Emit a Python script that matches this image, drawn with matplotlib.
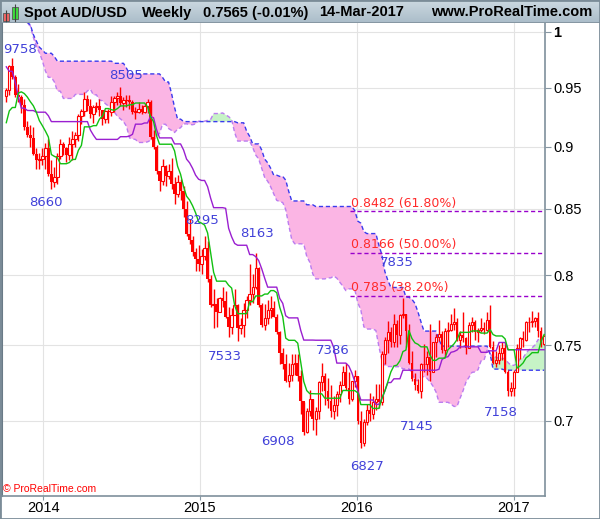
import numpy as np
import pandas as pd
import matplotlib
matplotlib.use('Agg')
import matplotlib.pyplot as plt
import matplotlib.dates as mdates
from matplotlib.patches import Rectangle
from matplotlib.ticker import NullLocator

plt.rcParams['font.family'] = ['Liberation Sans', 'DejaVu Sans']

# weekly highs/lows, 9 Apr 2012 - 30 Sep 2013 (only feed the Ichimoku windows)
hist_high = [1.040, 1.040, 1.045, 1.042, 1.017, 1.002, 0.990, 0.985, 0.990, 1.005,
             1.013, 1.025, 1.030, 1.028, 1.043, 1.045, 1.057, 1.062, 1.060, 1.055,
             1.045, 1.035, 1.052, 1.060, 1.050, 1.045, 1.030, 1.036, 1.045, 1.043,
             1.045, 1.042, 1.048, 1.050, 1.052, 1.060, 1.062, 1.046, 1.055,
             1.058, 1.061, 1.057, 1.048, 1.044, 1.037, 1.038, 1.033, 1.030, 1.037,
             1.048, 1.050, 1.058, 1.0582, 1.052, 1.040, 1.044, 1.024, 1.000, 0.980,
             0.980, 0.976, 0.961, 0.960, 0.932, 0.923, 0.917, 0.926, 0.935, 0.926,
             0.909, 0.921, 0.911, 0.906, 0.917, 0.930, 0.949, 0.942, 0.947]
hist_low = [1.027, 1.025, 1.028, 1.015, 1.000, 0.975, 0.968, 0.958, 0.967, 0.978,
            0.997, 0.998, 1.018, 1.010, 1.024, 1.027, 1.040, 1.050, 1.044, 1.040,
            1.025, 1.020, 1.032, 1.040, 1.035, 1.017, 1.018, 1.022, 1.030, 1.034,
            1.035, 1.028, 1.035, 1.040, 1.038, 1.047, 1.044, 1.035, 1.040,
            1.047, 1.046, 1.043, 1.039, 1.027, 1.022, 1.019, 1.015, 1.015, 1.025,
            1.030, 1.038, 1.037, 1.043, 1.022, 1.025, 1.027, 0.995, 0.975, 0.963,
            0.955, 0.951, 0.933, 0.921, 0.910, 0.905, 0.899, 0.906, 0.917, 0.893,
            0.8848, 0.906, 0.898, 0.890, 0.890, 0.915, 0.917, 0.926, 0.931]

# visible weekly bars, 7 Oct 2013 - 13 Mar 2017
first_open = 0.9425
high = [0.9500, 0.9700, 0.9758, 0.9615, 0.9530, 0.9440, 0.9400, 0.9210, 0.9180, 0.9160,
        0.8990, 0.8950, 0.8990,
        0.9030, 0.9060, 0.8890, 0.8830, 0.8950, 0.9060, 0.9040, 0.9000, 0.9080, 0.9130,
        0.9120, 0.9270, 0.9320, 0.9460, 0.9440, 0.9400, 0.9350, 0.9380, 0.9400, 0.9300,
        0.9310, 0.9320, 0.9430, 0.9430, 0.9460, 0.9505, 0.9420, 0.9440, 0.9440, 0.9390,
        0.9330, 0.9380, 0.9350, 0.9360, 0.9400, 0.9390, 0.9140, 0.9010, 0.8800, 0.8900,
        0.8850, 0.8860, 0.8910, 0.8750, 0.8770, 0.8740, 0.8680, 0.8560, 0.8420, 0.8290,
        0.8200, 0.8220,
        0.8190, 0.8290, 0.8250, 0.8000, 0.7900, 0.7830, 0.7840, 0.7910, 0.7880, 0.7770,
        0.7760, 0.7900, 0.7790, 0.7690, 0.7800, 0.7850, 0.8080, 0.8010, 0.8163, 0.8060,
        0.7800, 0.7790, 0.7820, 0.7850, 0.7810, 0.7720, 0.7600, 0.7480, 0.7440, 0.7380,
        0.7440, 0.7440, 0.7440, 0.7330, 0.7120, 0.7080, 0.7200, 0.7140, 0.7090, 0.7260,
        0.7382, 0.7310, 0.7280, 0.7230, 0.7160, 0.7190, 0.7260, 0.7360, 0.7380, 0.7320,
        0.7260, 0.7330,
        0.7290, 0.7060, 0.7010, 0.7110, 0.7180, 0.7160, 0.7240, 0.7240, 0.7460, 0.7560,
        0.7670, 0.7630, 0.7720, 0.7680, 0.7720, 0.7835, 0.7720, 0.7650, 0.7460, 0.7310,
        0.7270, 0.7380, 0.7510, 0.7460, 0.7650, 0.7520, 0.7580, 0.7680, 0.7600, 0.7620,
        0.7660, 0.7720, 0.7760, 0.7690, 0.7600, 0.7730, 0.7560, 0.7660, 0.7700, 0.7680,
        0.7620, 0.7690, 0.7660, 0.7730, 0.7780, 0.7530, 0.7460, 0.7500, 0.7520, 0.7520,
        0.7330, 0.7250,
        0.7330, 0.7510, 0.7560, 0.7600, 0.7670, 0.7700, 0.7740, 0.7700, 0.7730, 0.7630,
        0.7570]
low = [0.9380, 0.9440, 0.9580, 0.9420, 0.9380, 0.9280, 0.9140, 0.9080, 0.9000, 0.8930,
       0.8820, 0.8820, 0.8850,
       0.8820, 0.8760, 0.8660, 0.8670, 0.8700, 0.8900, 0.8930, 0.8870, 0.8890, 0.8890,
       0.9000, 0.9050, 0.9190, 0.9260, 0.9300, 0.9240, 0.9200, 0.9290, 0.9260, 0.9180,
       0.9200, 0.9200, 0.9260, 0.9290, 0.9350, 0.9340, 0.9310, 0.9330, 0.9320, 0.9270,
       0.9230, 0.9280, 0.9270, 0.9280, 0.9280, 0.9060, 0.8980, 0.8780, 0.8640, 0.8690,
       0.8680, 0.8740, 0.8660, 0.8540, 0.8590, 0.8570, 0.8440, 0.8290, 0.8230, 0.8140,
       0.8030, 0.8030,
       0.8010, 0.8110, 0.7950, 0.7770, 0.7620, 0.7630, 0.7730, 0.7770, 0.7690, 0.7560,
       0.7580, 0.7710, 0.7533, 0.7580, 0.7560, 0.7690, 0.7780, 0.7800, 0.7900, 0.7770,
       0.7630, 0.7610, 0.7650, 0.7690, 0.7700, 0.7580, 0.7370, 0.7340, 0.7250, 0.7220,
       0.7260, 0.7300, 0.7260, 0.7044, 0.6910, 0.6920, 0.7030, 0.6940, 0.6908, 0.7010,
       0.7190, 0.7100, 0.7080, 0.7020, 0.7010, 0.7030, 0.7120, 0.7230, 0.7200, 0.7110,
       0.7130, 0.7220,
       0.6980, 0.6827, 0.6840, 0.6970, 0.7000, 0.7010, 0.7070, 0.7080, 0.7100, 0.7370,
       0.7450, 0.7490, 0.7490, 0.7490, 0.7510, 0.7690, 0.7490, 0.7370, 0.7260, 0.7200,
       0.7180, 0.7145, 0.7320, 0.7300, 0.7260, 0.7320, 0.7420, 0.7530, 0.7450, 0.7420,
       0.7490, 0.7600, 0.7610, 0.7530, 0.7480, 0.7520, 0.7440, 0.7480, 0.7590, 0.7540,
       0.7520, 0.7590, 0.7580, 0.7600, 0.7480, 0.7370, 0.7350, 0.7370, 0.7400, 0.7310,
       0.7160, 0.7160,
       0.7160, 0.7320, 0.7410, 0.7490, 0.7530, 0.7590, 0.7630, 0.7630, 0.7560, 0.7490,
       0.7500]
close = [0.9480, 0.9690, 0.9590, 0.9440, 0.9420, 0.9350, 0.9160, 0.9100, 0.9070, 0.8940,
         0.8890, 0.8900, 0.8920,
         0.8990, 0.8780, 0.8710, 0.8750, 0.8920, 0.9020, 0.8990, 0.8930, 0.9020, 0.9060,
         0.9100, 0.9260, 0.9300, 0.9400, 0.9340, 0.9270, 0.9330, 0.9340, 0.9310, 0.9230,
         0.9300, 0.9290, 0.9380, 0.9410, 0.9430, 0.9370, 0.9390, 0.9390, 0.9380, 0.9290,
         0.9290, 0.9320, 0.9290, 0.9340, 0.9380, 0.9080, 0.9000, 0.8800, 0.8720, 0.8840,
         0.8760, 0.8800, 0.8700, 0.8620, 0.8710, 0.8640, 0.8500, 0.8310, 0.8260, 0.8170,
         0.8120, 0.8080,
         0.8140, 0.8200, 0.7970, 0.7780, 0.7790, 0.7730, 0.7830, 0.7810, 0.7700, 0.7630,
         0.7710, 0.7780, 0.7620, 0.7640, 0.7750, 0.7820, 0.7860, 0.7910, 0.8050, 0.7780,
         0.7640, 0.7690, 0.7750, 0.7760, 0.7700, 0.7590, 0.7450, 0.7370, 0.7260, 0.7300,
         0.7370, 0.7380, 0.7290, 0.7130, 0.6930, 0.7060, 0.7140, 0.7010, 0.7060, 0.7250,
         0.7290, 0.7190, 0.7130, 0.7060, 0.7100, 0.7170, 0.7230, 0.7320, 0.7210, 0.7140,
         0.7260, 0.7290,
         0.7000, 0.6860, 0.6990, 0.7070, 0.7040, 0.7120, 0.7140, 0.7120, 0.7440, 0.7540,
         0.7590, 0.7520, 0.7650, 0.7570, 0.7710, 0.7720, 0.7600, 0.7380, 0.7270, 0.7230,
         0.7190, 0.7370, 0.7370, 0.7420, 0.7320, 0.7520, 0.7560, 0.7580, 0.7470, 0.7600,
         0.7610, 0.7650, 0.7660, 0.7540, 0.7570, 0.7550, 0.7480, 0.7640, 0.7660, 0.7590,
         0.7610, 0.7620, 0.7610, 0.7680, 0.7490, 0.7380, 0.7400, 0.7450, 0.7480, 0.7320,
         0.7190, 0.7210,
         0.7320, 0.7480, 0.7550, 0.7540, 0.7660, 0.7660, 0.7670, 0.7690, 0.7600, 0.7510,
         0.7565]

# zigzag swing labels (text, anchor date, anchor price)
swing_text = ['9758', '8505', '8660', '8295', '8163', '7533', '7386', '6908', '6827',
              '7145', '7835', '7158']
swing_date = ['2013-11-07', '2014-07-13', '2014-01-07', '2015-01-07', '2015-05-13',
              '2015-02-28', '2015-11-06', '2015-07-01', '2016-01-26', '2016-05-20',
              '2016-04-03', '2016-12-02']
swing_price = [0.9842, 0.9611, 0.8547, 0.8414, 0.8314, 0.7427, 0.7468, 0.6870, 0.6711,
               0.6959, 0.8096, 0.7052]

# fibonacci retracement of the 0.9505 -> 0.6827 move
fib_top = 0.9505
fib_bottom = 0.6827
fib_ratio = [0.618, 0.5, 0.382]
fib_start = '2015-12-16'

price_ticks = [0.7, 0.75, 0.8, 0.85, 0.9, 0.95, 1.0]

W, H = 600, 519
fig = plt.figure(figsize=(W / 100, H / 100), dpi=100)
fig.patch.set_facecolor('white')

n_hist = len(hist_high)
weeks = pd.date_range('2012-04-09', periods=n_hist + len(close), freq='W-MON')
hi = pd.Series(hist_high + high, index=weeks)
lo = pd.Series(hist_low + low, index=weeks)

# ichimoku
tenkan = (hi.rolling(9).max() + lo.rolling(9).min()) / 2
kijun = (hi.rolling(26).max() + lo.rolling(26).min()) / 2
span_a = ((tenkan + kijun) / 2).shift(26)
span_b = ((hi.rolling(52).max() + lo.rolling(52).min()) / 2).shift(26)

vis = slice(n_hist, None)
x = mdates.date2num(weeks[vis].to_pydatetime())
o = np.array([first_open] + close[:-1])
c = np.array(close)
h = np.array(high)
l = np.array(low)
a = span_a.values[vis]
b = span_b.values[vis]

ax = fig.add_axes([2 / W, (H - 496) / H, 543 / W, 473 / H])
ax.set_yscale('log')

ax.fill_between(x, a, b, where=b >= a, interpolate=True, color='#fbb5e4', lw=0, zorder=1)
ax.fill_between(x, a, b, where=b < a, interpolate=True, color='#c6f3c6', lw=0, zorder=1)
ax.plot(x, a, color='#bb7cf0', lw=1, ls=(0, (3, 2)), zorder=2)
ax.plot(x, b, color='#3a3aee', lw=1, ls=(0, (3, 2)), zorder=2)

# candles
up = c >= o
ax.vlines(x, l, h, color='#ff0000', lw=1.0, zorder=3)
ax.bar(x[~up], np.maximum(o - c, 0.0006)[~up], bottom=c[~up], width=6,
       color='#ff0000', lw=0, zorder=4)
ax.bar(x[up], np.maximum(c - o, 0.0006)[up], bottom=o[up], width=5.5,
       facecolor='white', edgecolor='#ff0000', lw=0.8, zorder=4)

ax.plot(x, kijun.values[vis], color='#9a1fd0', lw=1, zorder=5)
ax.plot(x, tenkan.values[vis], color='#12c012', lw=1, zorder=5)

# fibonacci levels
x_fib = mdates.date2num(pd.Timestamp(fib_start).to_pydatetime())
x_end = mdates.date2num(pd.Timestamp('2017-03-15').to_pydatetime())
for r in fib_ratio:
    v = fib_bottom + r * (fib_top - fib_bottom)
    ax.hlines(v, x_fib, x_end, color='#9900cc', lw=1, linestyles=(0, (3, 2)), zorder=2)
    txt = '{} ({:.2f}%)'.format(('%.4f' % v).rstrip('0'), r * 100)
    ax.annotate(txt, (x_fib + 3, v), xytext=(0, 1), textcoords='offset points',
                ha='left', va='bottom', color='#ff2a2a', fontsize=9,
                family='DejaVu Sans', zorder=6)

for t, d, p in zip(swing_text, swing_date, swing_price):
    ax.text(mdates.date2num(pd.Timestamp(d).to_pydatetime()), p, t, ha='center',
            va='center', fontsize=9.5, family='DejaVu Sans', color='#4141d9', zorder=6)

ax.set_xlim(mdates.date2num(pd.Timestamp('2013-09-27').to_pydatetime()), x_end)
ax.set_ylim(0.6532, 1.0081)

ax.yaxis.tick_right()
ax.set_yticks(price_ticks, labels=['%g' % v for v in price_ticks])
ax.yaxis.set_minor_locator(NullLocator())
ax.get_yticklabels()[-1].set_fontweight('bold')
ax.xaxis.set_major_locator(mdates.YearLocator())
ax.xaxis.set_major_formatter(mdates.DateFormatter('%Y'))
ax.xaxis.set_minor_locator(NullLocator())
ax.tick_params(axis='both', direction='out', length=4, width=0.8, color='#8797a3',
               labelsize=10.5, labelcolor='black', pad=2)
ax.tick_params(axis='x', length=3, pad=0.5)

ax.grid(True, color='#e3e3e3', lw=0.8, zorder=0)
ax.set_axisbelow(True)
ax.spines['top'].set_visible(False)
ax.spines['right'].set_color('#7f909c')
ax.spines['right'].set_linewidth(1.2)
ax.spines['bottom'].set_color('#7f909c')
ax.spines['bottom'].set_linewidth(1.2)
ax.spines['left'].set_color('#6a7b87')
ax.spines['left'].set_linewidth(1.5)

fig.text(3 / W, 1 - 489 / H, '\u00a9 ProRealTime.com', color='#ff0000', fontsize=7.5,
         ha='left', va='center')

# title bar
tb = fig.add_axes([0, (H - 23) / H, 1, 23 / H])
grad = np.linspace(0, 1, 23)[:, None]
top_rgb = np.array([0.80, 0.85, 0.88])
bot_rgb = np.array([0.67, 0.74, 0.79])
img = top_rgb + (bot_rgb - top_rgb) * grad[:, :, None]
tb.imshow(np.repeat(img, 2, axis=1), extent=(0, 600, 23, 0), aspect='auto')
tb.set_xlim(0, 600)
tb.set_ylim(23, 0)
tb.axis('off')
tb.vlines([6, 14.5], [9.5, 3.5], [23, 21.5], color='#444444', lw=0.8)
tb.add_patch(Rectangle((3, 12.5), 6, 8.5, facecolor='#f06464', edgecolor='#555555', lw=0.6))
tb.add_patch(Rectangle((11.5, 6.5), 6, 12, facecolor='#3ddc3d', edgecolor='#555555', lw=0.6))
tb.axhline(23, color='#7f909c', lw=1.2)

for xp, s in [(24, 'Spot AUD/USD'), (141.6, 'Weekly'), (202.8, '0.7565 (-0.01%)'),
              (319.6, '14-Mar-2017')]:
    tb.text(xp, 12.5, s, ha='left', va='center', fontsize=10.5, fontweight='bold')
tb.text(592.4, 12.5, 'www.ProRealTime.com', ha='right', va='center', fontsize=10.5,
        fontweight='bold')

fig.patches.append(Rectangle((0, 0), 1, 1, transform=fig.transFigure, fill=False,
                             edgecolor='#7b8c98', lw=2))

fig.savefig('out.png', dpi=100)
